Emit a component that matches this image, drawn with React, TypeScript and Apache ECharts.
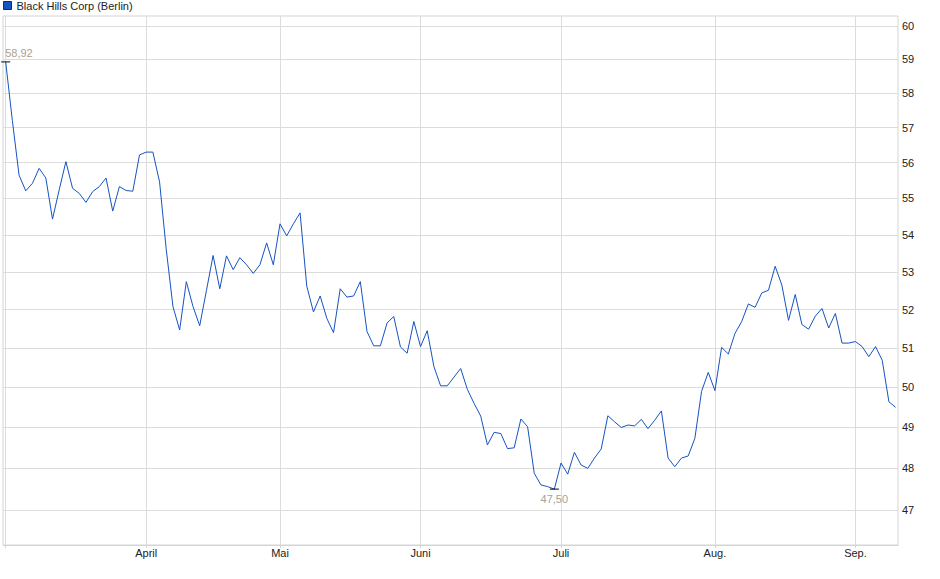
import { useRef, useEffect } from 'react'
import * as echarts from 'echarts'

const seriesName = 'Black Hills Corp (Berlin)'

// daily closes, 3 March to 9 September (trading days)
const prices = [
  58.92, 57.2, 55.65, 55.21, 55.42, 55.84, 55.57, 54.43, 55.24, 56.03,
  55.28, 55.14, 54.89, 55.19, 55.33, 55.57, 54.65, 55.33, 55.22, 55.2,
  56.22, 56.3, 56.3, 55.46, 53.6, 52.08, 51.47, 52.74, 52.08, 51.58,
  52.5, 53.44, 52.55, 53.43, 53.06, 53.38, 53.19, 52.96, 53.19, 53.78,
  53.19, 54.3, 53.97, 54.3, 54.6, 52.62, 51.94, 52.36, 51.77, 51.4,
  52.55, 52.33, 52.36, 52.74, 51.43, 51.06, 51.06, 51.65, 51.82, 51.03,
  50.87, 51.69, 51.04, 51.45, 50.53, 50.04, 50.04, 50.26, 50.48, 49.95,
  49.6, 49.28, 48.57, 48.88, 48.85, 48.48, 48.5, 49.21, 49.02, 47.88,
  47.6, 47.56, 47.5, 48.13, 47.86, 48.39, 48.08, 48.0, 48.25, 48.47,
  49.29, 49.14, 49.0, 49.06, 49.04, 49.2, 48.97, 49.18, 49.41, 48.25,
  48.04, 48.25, 48.3, 48.73, 49.9, 50.38, 49.92, 51.02, 50.85, 51.38,
  51.69, 52.15, 52.06, 52.44, 52.51, 53.15, 52.65, 51.72, 52.4, 51.61,
  51.49, 51.83, 52.03, 51.52, 51.9, 51.13, 51.13, 51.17, 51.04, 50.78,
  51.04, 50.69, 49.64, 49.5,
]

const monthLabels = ['März', 'April', 'Mai', 'Juni', 'Juli', 'Aug.', 'Sep.']
const monthStarts = [0, 21, 41, 62, 83, 106, 127]
const priceTicks = [47, 48, 49, 50, 51, 52, 53, 54, 55, 56, 57, 58, 59, 60]

const font = '"Liberation Sans", Arial, sans-serif'
const fmt = (v: number) => Math.exp(v).toFixed(2).replace('.', ',')

function App() {
  const chartRef = useRef<HTMLDivElement>(null)

  useEffect(() => {
    if (!chartRef.current) return
    document.body.style.margin = '0'
    const myChart = echarts.init(chartRef.current, null, { renderer: 'svg' })
    const option = {
      animation: false,
      legend: {
        left: 3,
        top: 0,
        padding: 0,
        itemWidth: 8,
        itemHeight: 8,
        icon: 'rect',
        selectedMode: false,
        textStyle: { fontSize: 11, color: '#222', fontFamily: font },
        data: [{ name: seriesName, itemStyle: { borderColor: '#0c2d6b', borderWidth: 1 } }],
      },
      grid: {
        left: 3,
        top: 16,
        right: 42,
        bottom: 34,
        show: true,
        borderColor: '#d4d4d4',
        borderWidth: 1,
        outerBoundsMode: 'none',
      },
      xAxis: {
        type: 'value',
        min: -0.4,
        max: 133.36,
        axisLine: { show: true, lineStyle: { color: '#d4d4d4' } },
        axisTick: { show: true, length: 3, lineStyle: { color: '#d4d4d4' }, customValues: monthStarts },
        splitLine: { show: true, lineStyle: { color: '#dcdcdc' } },
        axisLabel: {
          customValues: monthStarts.slice(1),
          margin: 2,
          fontSize: 11,
          color: '#222',
          fontFamily: font,
          formatter: (v: number) => monthLabels[monthStarts.indexOf(Math.round(v))] ?? '',
        },
      },
      yAxis: {
        type: 'value',
        position: 'right',
        min: Math.log(46.18),
        max: Math.log(60.3),
        axisLine: { show: false },
        axisTick: { show: false, customValues: priceTicks.map(Math.log) },
        splitLine: { show: true, lineStyle: { color: '#dcdcdc' } },
        axisLabel: {
          customValues: priceTicks.map(Math.log),
          margin: 4,
          fontSize: 11,
          color: '#222',
          fontFamily: font,
          formatter: (v: number) => String(Math.round(Math.exp(v))),
        },
      },
      series: [
        {
          name: seriesName,
          type: 'line',
          showSymbol: false,
          color: '#1553c2',
          lineStyle: { width: 1, color: '#1553c2' },
          data: prices.map((p, i) => [i, Math.log(p)]),
          markPoint: {
            symbol: 'rect',
            symbolSize: [9, 1],
            itemStyle: { color: '#000' },
            label: { color: '#a89f95', fontSize: 11, fontFamily: font, formatter: (p: any) => fmt(p.value) },
            data: [
              { type: 'max', label: { position: [4, -14] } },
              { type: 'min', label: { position: 'bottom', distance: 4 } },
            ],
          },
        },
      ],
    }
    myChart.setOption(option)

    const handleResize = () => {
      myChart.resize()
    }
    window.addEventListener('resize', handleResize)

    return () => {
      window.removeEventListener('resize', handleResize)
      myChart.dispose()
    }
  }, [])

  return <div ref={chartRef} style={{ width: '940px', height: '579px' }}></div>
}

export default App
